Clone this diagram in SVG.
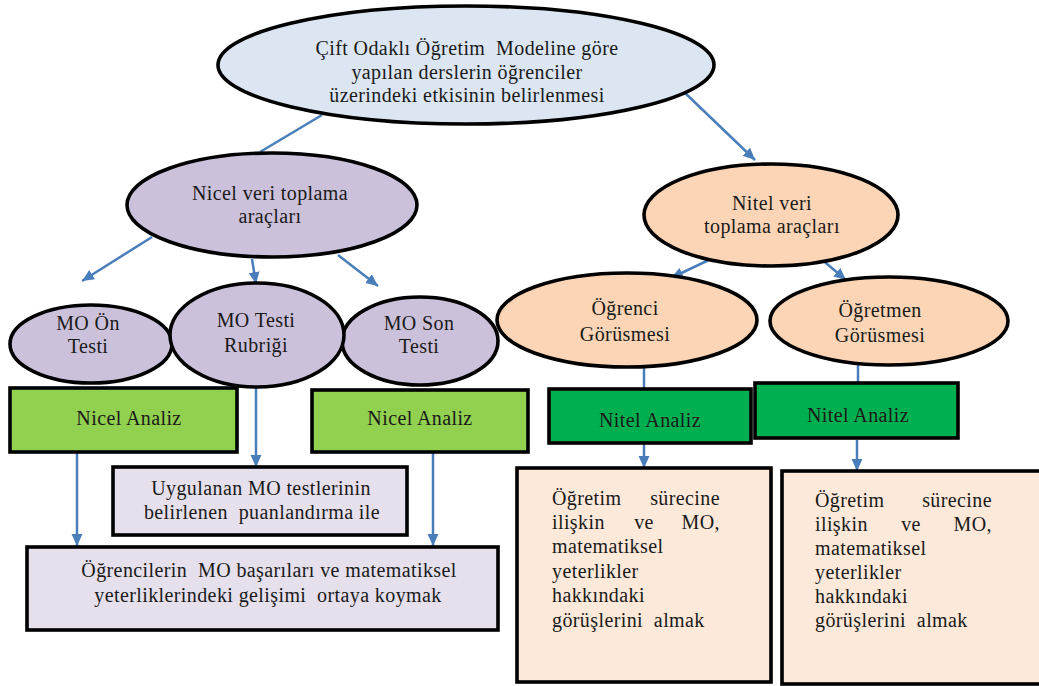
<svg xmlns="http://www.w3.org/2000/svg" width="1039" height="686" viewBox="0 0 1039 686">
<defs>
<marker id="ah" markerUnits="userSpaceOnUse" markerWidth="13" markerHeight="13" refX="12" refY="6.5" orient="auto">
<path d="M0,1 L12,6.5 L0,12 z" fill="#4a7ebb"/>
</marker>
<style>
.sh{stroke:#000;stroke-width:3.6}
.top{fill:#dce6f2}
.nic{fill:#ccc1da}
.nit{fill:#fbd5b5}
.ga{fill:#92d050}
.gb{fill:#00b050}
.lv{fill:#e5e0ec}
.pc{fill:#fde9d9}
.t{font-family:"Liberation Serif","Times New Roman",serif;font-size:20px;letter-spacing:0.4px;fill:#1a1a1a;text-anchor:middle;white-space:pre}
.l{text-anchor:start}
.r{text-anchor:end}
.c{stroke:#4a7ebb;stroke-width:2.5;fill:none}
</style>
</defs>
<rect width="1039" height="686" fill="#fff"/>
<g id="connectors">
<line class="c" x1="322" y1="115" x2="260" y2="152"/>
<line class="c" x1="684" y1="92" x2="755" y2="160" marker-end="url(#ah)"/>
<line class="c" x1="152" y1="237" x2="82" y2="281" marker-end="url(#ah)"/>
<line class="c" x1="252" y1="259" x2="256" y2="284" marker-end="url(#ah)"/>
<line class="c" x1="338" y1="255" x2="378" y2="286" marker-end="url(#ah)"/>
<line class="c" x1="713" y1="258" x2="671" y2="278" marker-end="url(#ah)"/>
<line class="c" x1="820" y1="258" x2="846" y2="280" marker-end="url(#ah)"/>
<line class="c" x1="644" y1="367" x2="644" y2="389"/>
<line class="c" x1="858" y1="365" x2="858" y2="383"/>
<line class="c" x1="256" y1="387" x2="256" y2="467" marker-end="url(#ah)"/>
<line class="c" x1="77" y1="452" x2="77" y2="546" marker-end="url(#ah)"/>
<line class="c" x1="433" y1="452" x2="433" y2="546" marker-end="url(#ah)"/>
<line class="c" x1="644" y1="443" x2="644" y2="468" marker-end="url(#ah)"/>
<line class="c" x1="857" y1="440" x2="857" y2="471" marker-end="url(#ah)"/>
</g>
<g id="root">
<ellipse class="sh top" cx="466" cy="65" rx="248" ry="59"/>
<text class="t" x="467" y="55">Çift Odaklı Öğretim  Modeline göre</text>
<text class="t" x="467" y="79">yapılan derslerin öğrenciler</text>
<text class="t" x="467" y="102">üzerindeki etkisinin belirlenmesi</text>
</g>
<g id="nicel">
<ellipse class="sh nic" cx="272" cy="205" rx="145" ry="52"/>
<text class="t" x="270" y="200">Nicel veri toplama</text>
<text class="t" x="270" y="223">araçları</text>
</g>
<g id="nitel">
<ellipse class="sh nit" cx="771" cy="215" rx="127" ry="51"/>
<text class="t" x="772" y="210">Nitel veri</text>
<text class="t" x="772" y="233">toplama araçları</text>
</g>
<g id="mo-on">
<ellipse class="sh nic" cx="91" cy="344" rx="81" ry="39"/>
<text class="t" x="88" y="330">MO Ön</text>
<text class="t" x="88" y="353">Testi</text>
</g>
<g id="mo-son">
<ellipse class="sh nic" cx="420" cy="341" rx="78" ry="44"/>
<text class="t" x="419" y="330">MO Son</text>
<text class="t" x="419" y="353">Testi</text>
</g>
<g id="mo-rubrik">
<ellipse class="sh nic" cx="257" cy="335" rx="87" ry="52"/>
<text class="t" x="256" y="327">MO Testi</text>
<text class="t" x="256" y="352">Rubriği</text>
</g>
<g id="ogrenci">
<ellipse class="sh nit" cx="627" cy="320" rx="130" ry="47"/>
<text class="t" x="625" y="315">Öğrenci</text>
<text class="t" x="625" y="341">Görüsmesi</text>
</g>
<g id="ogretmen">
<ellipse class="sh nit" cx="889" cy="321" rx="119" ry="44"/>
<text class="t" x="880" y="317">Öğretmen</text>
<text class="t" x="880" y="342">Görüsmesi</text>
</g>
<g id="nicel-analiz-1">
<rect class="sh ga" x="10" y="388" width="227" height="64"/>
<text class="t" x="129" y="425">Nicel Analiz</text>
</g>
<g id="nicel-analiz-2">
<rect class="sh ga" x="312" y="390" width="216" height="62"/>
<text class="t" x="420" y="425">Nicel Analiz</text>
</g>
<g id="nitel-analiz-1">
<rect class="sh gb" x="549" y="389" width="202" height="54"/>
<text class="t" x="650" y="427">Nitel Analiz</text>
</g>
<g id="nitel-analiz-2">
<rect class="sh gb" x="755" y="383" width="203" height="55"/>
<text class="t" x="858" y="422">Nitel Analiz</text>
</g>
<g id="uygulanan">
<rect class="sh lv" x="113" y="467" width="294" height="68"/>
<text class="t" x="261" y="495">Uygulanan MO testlerinin</text>
<text class="t" x="262" y="519">belirlenen  puanlandırma ile</text>
</g>
<g id="ogrencilerin">
<rect class="sh lv" x="27" y="547" width="471" height="83"/>
<text class="t" x="269" y="577">Öğrencilerin  MO başarıları ve matematiksel</text>
<text class="t" x="268" y="602">yeterliklerindeki gelişimi  ortaya koymak</text>
</g>
<g id="gorus-1">
<rect class="sh pc" x="517" y="468" width="254" height="214"/>
<text class="t l" x="552" y="505">Öğretim</text>
<text class="t r" x="720" y="505">sürecine</text>
<text class="t l" x="552" y="529">ilişkin</text>
<text class="t" x="644" y="529">ve</text>
<text class="t r" x="720" y="529">MO,</text>
<text class="t l" x="552" y="553">matematiksel</text>
<text class="t l" x="552" y="578">yeterlikler</text>
<text class="t l" x="552" y="602">hakkındaki</text>
<text class="t l" x="552" y="627">görüşlerini  almak</text>
</g>
<g id="gorus-2">
<rect class="sh pc" x="782" y="471" width="264" height="213"/>
<text class="t l" x="815" y="507">Öğretim</text>
<text class="t r" x="992" y="507">sürecine</text>
<text class="t l" x="815" y="531">ilişkin</text>
<text class="t" x="911" y="531">ve</text>
<text class="t r" x="992" y="531">MO,</text>
<text class="t l" x="815" y="555">matematiksel</text>
<text class="t l" x="815" y="579">yeterlikler</text>
<text class="t l" x="815" y="603">hakkındaki</text>
<text class="t l" x="815" y="627">görüşlerini  almak</text>
</g>
</svg>
